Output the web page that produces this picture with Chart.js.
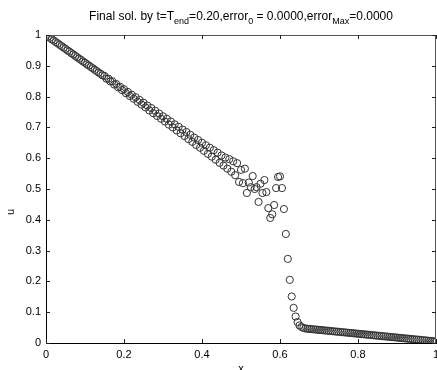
<!DOCTYPE html>
<html>
<head>
<meta charset="utf-8">
<script src="https://cdn.jsdelivr.net/npm/chart.js@4.4.0/dist/chart.umd.min.js"></script>
<style>
  html, body { margin: 0; padding: 0; background: #fff; }
  canvas { display: block; }
</style>
</head>
<body>
<canvas id="solChart" width="437" height="370"></canvas>
<script>
// grid points x_i and the final solution u_i
let xs = [
    0, 0.005, 0.01, 0.015, 0.02, 0.025, 0.03, 0.035, 0.04, 0.045,
    0.05, 0.055, 0.06, 0.065, 0.07, 0.075, 0.08, 0.085, 0.09, 0.095,
    0.1, 0.105, 0.11, 0.115, 0.12, 0.125, 0.13, 0.135, 0.14, 0.145,
    0.15, 0.155, 0.16, 0.165, 0.17, 0.175, 0.18, 0.185, 0.19, 0.195,
    0.2, 0.205, 0.21, 0.215, 0.22, 0.225, 0.23, 0.235, 0.24, 0.245,
    0.25, 0.255, 0.26, 0.265, 0.27, 0.275, 0.28, 0.285, 0.29, 0.295,
    0.3, 0.305, 0.31, 0.315, 0.32, 0.325, 0.33, 0.335, 0.34, 0.345,
    0.35, 0.355, 0.36, 0.365, 0.37, 0.375, 0.38, 0.385, 0.39, 0.395,
    0.4, 0.405, 0.41, 0.415, 0.42, 0.425, 0.43, 0.435, 0.44, 0.445,
    0.45, 0.455, 0.46, 0.465, 0.47, 0.475, 0.48, 0.485, 0.49, 0.495,
    0.5, 0.505, 0.51, 0.515, 0.52, 0.525, 0.53, 0.535, 0.54, 0.545,
    0.55, 0.555, 0.56, 0.565, 0.57, 0.575, 0.58, 0.585, 0.59, 0.595,
    0.6, 0.605, 0.61, 0.615, 0.62, 0.625, 0.63, 0.635, 0.64, 0.645,
    0.65, 0.655, 0.66, 0.665, 0.67, 0.675, 0.68, 0.685, 0.69, 0.695,
    0.7, 0.705, 0.71, 0.715, 0.72, 0.725, 0.73, 0.735, 0.74, 0.745,
    0.75, 0.755, 0.76, 0.765, 0.77, 0.775, 0.78, 0.785, 0.79, 0.795,
    0.8, 0.805, 0.81, 0.815, 0.82, 0.825, 0.83, 0.835, 0.84, 0.845,
    0.85, 0.855, 0.86, 0.865, 0.87, 0.875, 0.88, 0.885, 0.89, 0.895,
    0.9, 0.905, 0.91, 0.915, 0.92, 0.925, 0.93, 0.935, 0.94, 0.945,
    0.95, 0.955, 0.96, 0.965, 0.97, 0.975, 0.98, 0.985, 0.99, 0.995,
    1
];
let us = [
    1.000, 0.995, 0.991, 0.986, 0.982, 0.977, 0.973, 0.968, 0.964, 0.959,
    0.955, 0.950, 0.946, 0.941, 0.937, 0.932, 0.928, 0.923, 0.919, 0.914,
    0.910, 0.905, 0.901, 0.896, 0.892, 0.887, 0.883, 0.878, 0.874, 0.869,
    0.867, 0.858, 0.858, 0.849, 0.850, 0.839, 0.841, 0.830, 0.832, 0.821,
    0.824, 0.811, 0.815, 0.802, 0.806, 0.793, 0.798, 0.783, 0.789, 0.774,
    0.780, 0.765, 0.771, 0.755, 0.763, 0.746, 0.754, 0.737, 0.745, 0.728,
    0.736, 0.719, 0.728, 0.709, 0.719, 0.700, 0.710, 0.690, 0.702, 0.681,
    0.693, 0.672, 0.685, 0.662, 0.676, 0.653, 0.667, 0.643, 0.659, 0.634,
    0.650, 0.624, 0.642, 0.614, 0.634, 0.605, 0.626, 0.595, 0.618, 0.585,
    0.609, 0.576, 0.602, 0.566, 0.597, 0.556, 0.590, 0.545, 0.584, 0.523,
    0.562, 0.519, 0.566, 0.487, 0.521, 0.506, 0.542, 0.500, 0.506, 0.458,
    0.517, 0.487, 0.529, 0.490, 0.438, 0.406, 0.418, 0.448, 0.503, 0.539,
    0.541, 0.503, 0.435, 0.354, 0.273, 0.205, 0.151, 0.114, 0.086, 0.068,
    0.057, 0.052, 0.049, 0.047, 0.0464, 0.0458, 0.0451, 0.0445, 0.0439, 0.0433,
    0.0426, 0.0420, 0.0414, 0.0407, 0.0401, 0.0395, 0.0389, 0.0382, 0.0376, 0.0370,
    0.0364, 0.0357, 0.0351, 0.0345, 0.0339, 0.0332, 0.0326, 0.0320, 0.0313, 0.0307,
    0.0301, 0.0295, 0.0288, 0.0282, 0.0276, 0.0270, 0.0263, 0.0257, 0.0251, 0.0244,
    0.0238, 0.0232, 0.0226, 0.0219, 0.0213, 0.0207, 0.0201, 0.0194, 0.0188, 0.0182,
    0.0176, 0.0169, 0.0163, 0.0157, 0.0150, 0.0144, 0.0138, 0.0132, 0.0125, 0.0119,
    0.0113, 0.0107, 0.0100, 0.0094, 0.0088, 0.0081, 0.0075, 0.0069, 0.0063, 0.0056,
    0.0050
];
let xTicks = [0, 0.2, 0.4, 0.6, 0.8, 1];
let yTicks = [0, 0.1, 0.2, 0.3, 0.4, 0.5, 0.6, 0.7, 0.8, 0.9, 1];

let titleParts = [
    ["Final sol. by t=T", false], ["end", true], ["=0.20,error", false],
    ["0", true], [" = 0.0000,error", false], ["Max", true], ["=0.0000", false]
];

const FONT = "'Liberation Sans', Arial, Helvetica, sans-serif";

// MATLAB-ish box, inward ticks, title with subscripts, axis labels
const matlabFrame = {
    id: "matlabFrame",
    afterDraw(chart) {
        let ctx = chart.ctx;
        let a = chart.chartArea;
        let sx = chart.scales.x, sy = chart.scales.y;
        ctx.save();

        ctx.strokeStyle = "#555";
        ctx.lineWidth = 1;
        ctx.beginPath();
        ctx.moveTo(a.left, a.top + 0.5);
        ctx.lineTo(a.right, a.top + 0.5);
        ctx.moveTo(a.right - 0.5, a.top);
        ctx.lineTo(a.right - 0.5, a.bottom);
        ctx.stroke();

        ctx.strokeStyle = "#222";
        ctx.beginPath();
        xTicks.forEach(v => {
            let px = Math.round(sx.getPixelForValue(v)) + 0.5;
            ctx.moveTo(px, a.bottom);
            ctx.lineTo(px, a.bottom - 4);
            ctx.moveTo(px, a.top);
            ctx.lineTo(px, a.top + 4);
        });
        yTicks.forEach(v => {
            let py = Math.round(sy.getPixelForValue(v)) + 0.5;
            ctx.moveTo(a.left, py);
            ctx.lineTo(a.left + 4, py);
            ctx.moveTo(a.right, py);
            ctx.lineTo(a.right - 4, py);
        });
        ctx.stroke();

        // title
        ctx.fillStyle = "#000";
        ctx.textBaseline = "alphabetic";
        ctx.textAlign = "left";
        let total = 0;
        titleParts.forEach(p => {
            ctx.font = (p[1] ? "9px " : "12px ") + FONT;
            total += ctx.measureText(p[0]).width;
        });
        let tx = (a.left + a.right) / 2 - total / 2;
        titleParts.forEach(p => {
            ctx.font = (p[1] ? "9px " : "12px ") + FONT;
            ctx.fillText(p[0], tx, p[1] ? 23.5 : 19.5);
            tx += ctx.measureText(p[0]).width;
        });

        // axis labels
        ctx.font = "11px " + FONT;
        ctx.textAlign = "center";
        ctx.fillText("x", (a.left + a.right) / 2, 372);
        ctx.translate(14, 212);
        ctx.rotate(-Math.PI / 2);
        ctx.fillText("u", 0, 0);
        ctx.restore();
    }
};

function noPad(s) {
    s.paddingLeft = 0;
    s.paddingRight = 0;
    s.paddingTop = 0;
    s.paddingBottom = 0;
}

let points = xs.map((x, i) => ({ x: x, y: us[i] }));

let ctx = document.getElementById("solChart").getContext("2d");
let myChart = new Chart(ctx, {
    type: "scatter",
    data: {
        datasets: [{
            label: "u",
            data: points,
            pointStyle: "circle",
            pointRadius: 3.6,
            pointHoverRadius: 3.6,
            pointBorderWidth: 1,
            pointBorderColor: "#333",
            pointBackgroundColor: "rgba(0,0,0,0)"
        }]
    },
    options: {
        responsive: false,
        animation: false,
        events: [],
        layout: { autoPadding: false, padding: { top: 35, right: 1, left: 0, bottom: 0 } },
        plugins: {
            legend: { display: false },
            title: { display: false },
            tooltip: { enabled: false }
        },
        scales: {
            x: {
                type: "linear",
                min: 0,
                max: 1,
                afterFit: s => { s.height = 27; noPad(s); },
                afterBuildTicks: s => { s.ticks = xTicks.map(v => ({ value: v })); },
                grid: { drawOnChartArea: false, drawTicks: false },
                border: { display: true, color: "#000", width: 1 },
                ticks: {
                    padding: 5,
                    maxRotation: 0,
                    color: "#000",
                    font: { family: FONT, size: 11 },
                    callback: v => String(v)
                }
            },
            y: {
                type: "linear",
                min: 0,
                max: 1,
                afterFit: s => { s.width = 46; noPad(s); },
                afterBuildTicks: s => { s.ticks = yTicks.map(v => ({ value: v })); },
                grid: { drawOnChartArea: false, drawTicks: false },
                border: { display: true, color: "#000", width: 1 },
                ticks: {
                    padding: 5,
                    color: "#000",
                    font: { family: FONT, size: 11 },
                    callback: v => String(v)
                }
            }
        }
    },
    plugins: [matlabFrame]
});
</script>
</body>
</html>
